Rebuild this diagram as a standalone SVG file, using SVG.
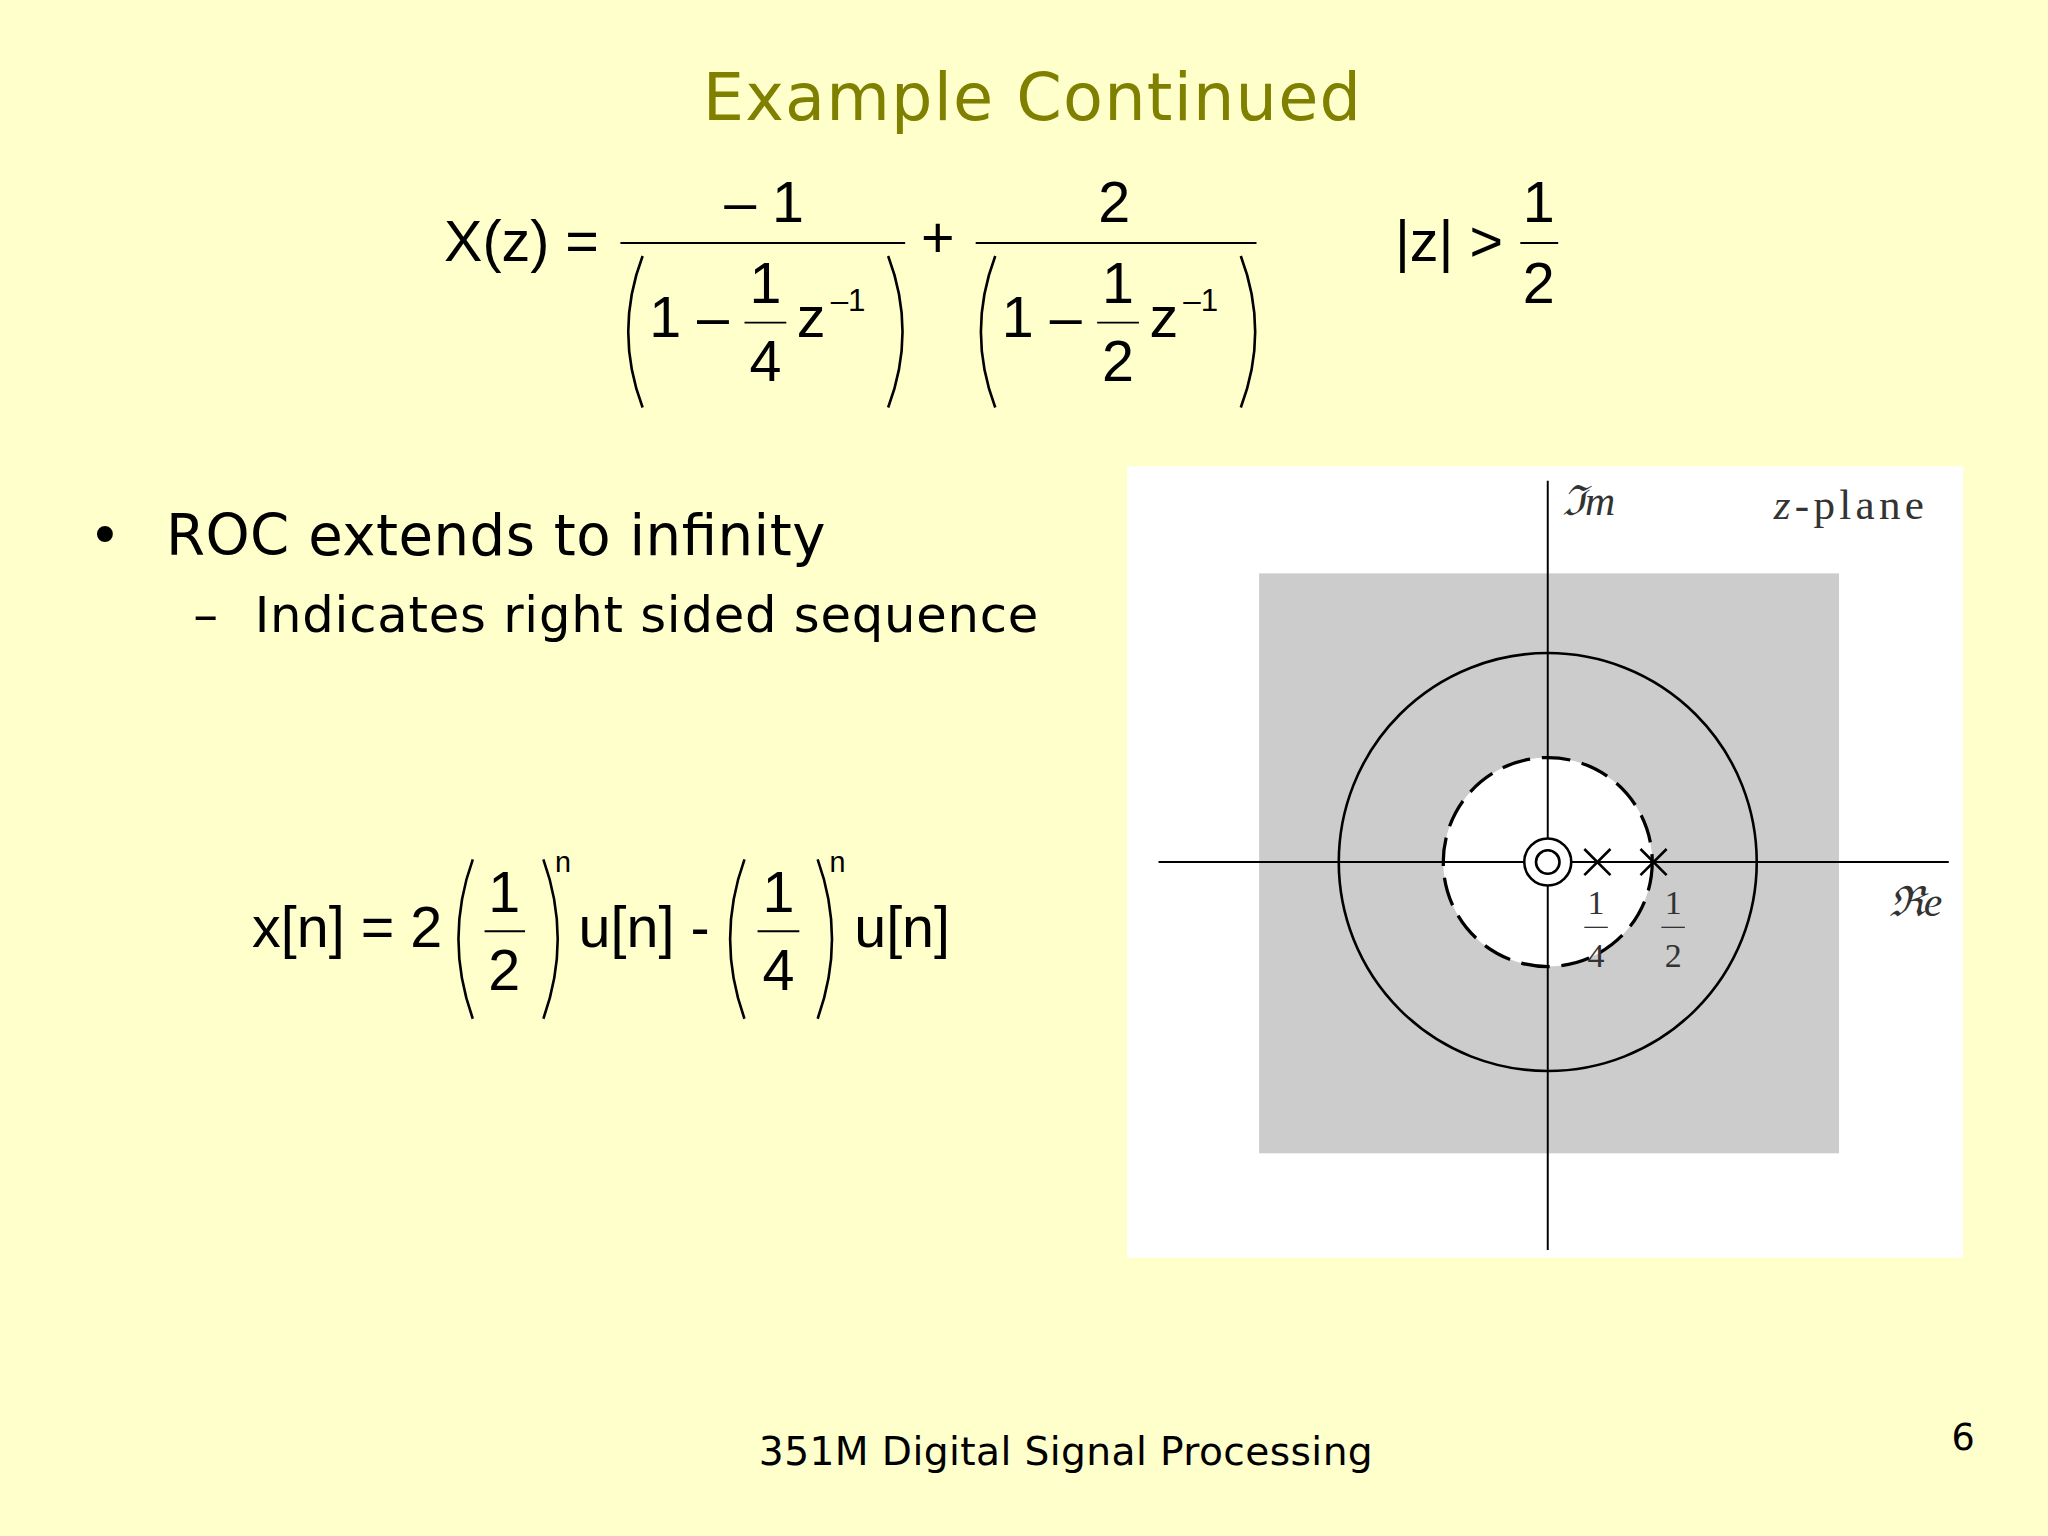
<svg xmlns="http://www.w3.org/2000/svg" width="2048" height="1536" viewBox="0 0 2048 1536">
<style>
.v{font-family:"DejaVu Sans",Verdana,sans-serif;fill:#000}
.m{font-family:"Liberation Sans",Arial,sans-serif;fill:#000;font-size:44px}
.s{font-family:"Liberation Serif","Times New Roman",serif;fill:#333}
.ln{stroke:#000;stroke-width:1.5;fill:none}
.p{stroke:#000;stroke-width:2;fill:none}
</style>
<rect width="2048" height="1536" fill="#FFFFCC"/>
<g transform="scale(1.30612)">
<g id="title"><text x="538" y="92" textLength="504" class="v" style="fill:#808000;font-size:50px">Example Continued</text></g>
<g id="eq1">
<text x="340" y="200" class="m">X(z) =</text>
<line x1="475" y1="186" x2="693" y2="186" class="ln"/>
<text x="585" y="170" text-anchor="middle" class="m">– 1</text>
<path d="M492 196 Q470 254 492 312 M680 196 Q702 254 680 312" class="p"/>
<text x="497" y="258" class="m">1 –</text>
<line x1="570" y1="247" x2="602" y2="247" class="ln"/>
<text x="586" y="232" text-anchor="middle" class="m">1</text>
<text x="586" y="292" text-anchor="middle" class="m">4</text>
<text x="610" y="258" class="m">z</text>
<text x="636" y="238" class="m" style="font-size:24px">–1</text>
<text x="718" y="197" text-anchor="middle" class="m">+</text>
<line x1="747" y1="186" x2="962" y2="186" class="ln"/>
<text x="853" y="170" text-anchor="middle" class="m">2</text>
<path d="M762 196 Q740 254 762 312 M950 196 Q972 254 950 312" class="p"/>
<text x="767" y="258" class="m">1 –</text>
<line x1="840" y1="247" x2="872" y2="247" class="ln"/>
<text x="856" y="232" text-anchor="middle" class="m">1</text>
<text x="856" y="292" text-anchor="middle" class="m">2</text>
<text x="880" y="258" class="m">z</text>
<text x="906" y="238" class="m" style="font-size:24px">–1</text>
<text x="1068" y="200" class="m">|z| &gt;</text>
<line x1="1164" y1="186" x2="1193" y2="186" class="ln"/>
<text x="1178" y="170" text-anchor="middle" class="m">1</text>
<text x="1178" y="232" text-anchor="middle" class="m">2</text>
</g>
<g id="bullets">
<text x="68" y="425" class="v" style="font-size:42px">•</text>
<text x="127" y="425" textLength="505" class="v" style="font-size:43px">ROC extends to infinity</text>
<text x="148" y="484" class="v" style="font-size:38px">–</text>
<text x="195" y="484" textLength="600" class="v" style="font-size:38px">Indicates right sided sequence</text>
</g>
<g id="eq2">
<text x="193" y="725" class="m">x[n] = 2</text>
<path d="M362 658 Q340 719 362 780 M416 658 Q438 719 416 780" class="p"/>
<line x1="371" y1="713" x2="402" y2="713" class="ln"/>
<text x="386" y="698" text-anchor="middle" class="m">1</text>
<text x="386" y="758" text-anchor="middle" class="m">2</text>
<text x="425" y="668" class="m" style="font-size:22px">n</text>
<text x="443" y="725" class="m">u[n] -</text>
<path d="M570 658 Q548 719 570 780 M626 658 Q648 719 626 780" class="p"/>
<line x1="580" y1="713" x2="612" y2="713" class="ln"/>
<text x="596" y="698" text-anchor="middle" class="m">1</text>
<text x="596" y="758" text-anchor="middle" class="m">4</text>
<text x="635" y="668" class="m" style="font-size:22px">n</text>
<text x="654" y="725" class="m">u[n]</text>
</g>
<g id="zplane">
<rect x="863" y="357" width="640" height="606" fill="#fff"/>
<rect x="964" y="439" width="444" height="444" fill="#ccc"/>
<circle cx="1185" cy="660" r="80" fill="#fff" stroke="#000" stroke-width="2.5" stroke-dasharray="22 9"/>
<circle cx="1185" cy="660" r="160" class="p"/>
<line x1="887" y1="660" x2="1492" y2="660" class="ln"/>
<line x1="1185" y1="368" x2="1185" y2="957" class="ln"/>
<circle cx="1185" cy="660" r="18" fill="#fff" stroke="#000" stroke-width="2"/>
<circle cx="1185" cy="660" r="9" fill="#fff" stroke="#000" stroke-width="2"/>
<path d="M1213 650 L1233 670 M1233 650 L1213 670 M1256 650 L1276 670 M1276 650 L1256 670" class="p"/>
<text x="1222" y="700" text-anchor="middle" class="s" style="font-size:26px">1</text>
<line x1="1213" y1="710" x2="1231" y2="710" stroke="#333" stroke-width="1"/>
<text x="1222" y="740" text-anchor="middle" class="s" style="font-size:26px">4</text>
<text x="1281" y="700" text-anchor="middle" class="s" style="font-size:26px">1</text>
<line x1="1272" y1="710" x2="1290" y2="710" stroke="#333" stroke-width="1"/>
<text x="1281" y="740" text-anchor="middle" class="s" style="font-size:26px">2</text>
<text x="1196" y="394" class="s" style="font-size:32px;font-style:italic">ℑm</text>
<text x="1358" y="397" textLength="115" class="s" style="font-size:33px"><tspan font-style="italic">z</tspan>-plane</text>
<text x="1446" y="701" class="s" style="font-size:32px;font-style:italic">ℜe</text>
</g>
<g id="footer">
<text x="581" y="1122" textLength="470" class="v" style="font-size:30px">351M Digital Signal Processing</text>
<text x="1503" y="1110" text-anchor="middle" class="v" style="font-size:28px">6</text>
</g>
</g>
</svg>
